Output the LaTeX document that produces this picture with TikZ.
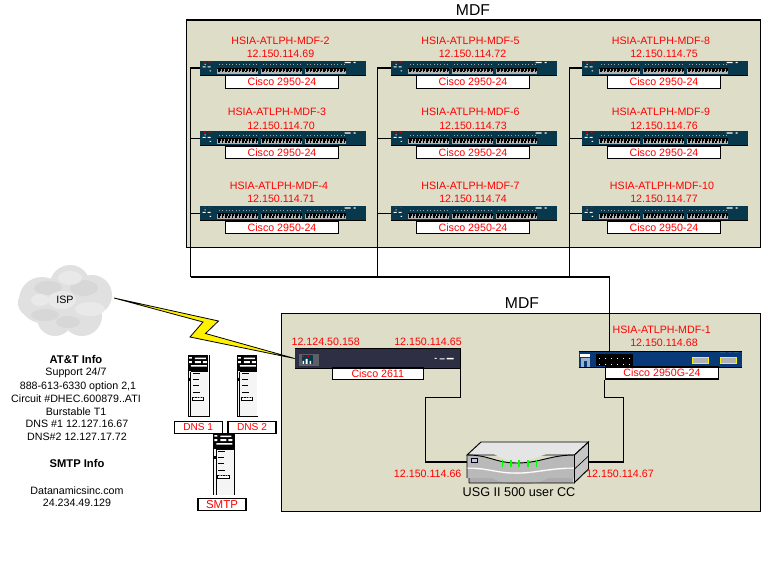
\documentclass[tikz,border=0pt]{standalone}
\usepackage{fontspec}
\setmainfont{Liberation Sans}
\definecolor{bgc}{RGB}{222,222,200}
\definecolor{teal}{RGB}{8,56,76}
\definecolor{dk}{RGB}{46,46,68}
\definecolor{navy}{RGB}{8,58,122}
\tikzset{
 px/.style={x=0.75pt,y=-0.75pt},
 ln/.style={draw=black,line width=0.8pt},
 rt/.style={text=red,inner sep=0pt,font=\fontsize{8}{9}\selectfont},
 bt/.style={text=black,inner sep=0pt,font=\fontsize{8}{9}\selectfont},
 bth/.style={text=black,inner sep=0pt,font=\fontsize{8.4}{9}\selectfont\bfseries},
 ttl/.style={text=black,inner sep=0pt,font=\fontsize{11.8}{13}\selectfont},
 zone/.style={fill=bgc,draw=black,line width=0.8pt,inner sep=0pt},
 swbox/.style={fill=teal,inner sep=0pt,minimum width=124.5pt,minimum height=10.9pt},
 lab/.style={fill=white,draw=black,line width=0.8pt,text=red,inner sep=0pt,minimum width=85pt,minimum height=9.1pt,font=\fontsize{8}{9}\selectfont},
 slab/.style={lab,minimum width=36pt,minimum height=9pt},
 blank/.style={inner sep=0pt,minimum width=15.5pt,minimum height=46pt},
}
% details of a 24-port switch; #1 = name of the switch node
\newcommand{\swdetail}[1]{%
 \begin{scope}[shift={(#1.north west)}]
  \fill[red!80!black] (4,1) rectangle (6,2.2) (9,1) rectangle (11,2.2);
  \fill[white] (3,6) rectangle (6,7) (8,6) rectangle (11,7) (5,3.5) rectangle (6,4.5) (10,10) rectangle (11.5,11);
  \fill[white] (145,1.5) rectangle (151,2.6) (154,1.5) rectangle (156,2.6);
  \foreach \gx in {17,61,105}{
   \fill[black] (\gx,7.5) rectangle ++(41,3);
   \fill[gray!60] (\gx,10.5) rectangle ++(41,2.7);
   \foreach \i in {0,...,11}{
    \fill[gray!70] ({\gx+0.6+\i*3.4},8.5) rectangle ++(0.7,2);
    \fill[black] ({\gx+1.5+\i*3.4},10.5) rectangle ++(1.6,1.4);
    \fill[gray!70!white] ({\gx+2+\i*3.4},4) rectangle ++(0.9,0.9);
   }
  }
  \draw[black,line width=0.6pt] (0,14.5) -- (166,14.5);
 \end{scope}}
% server tower drawn at its top-left corner
\newcommand{\towerdetail}[1]{%
 \begin{scope}[shift={(#1)}]
  \fill[gray!8] (0,15) rectangle (20.5,61.5);
  \fill[black] (0,0) rectangle (20.5,15.7);
  \fill[white] (7,2.5) rectangle (18,4) (7,6) rectangle (13,8) (15,6) rectangle (19,8) (1,2) rectangle (4,3.5) (1,6) rectangle (4,8) (3,10) rectangle (19,11.5);
  \draw[black,line width=0.8pt] (0.4,0) -- (0.4,61.5) (2.8,16.5) -- (2.8,61.5) (2.8,16.5) -- (20.5,16.5);
  \fill[black] (1,23) rectangle (3,26);
  \draw[black,line width=0.7pt] (5,18.3) -- (12,18.3) (5,24.3) -- (11,24.3) (5,30.5) -- (11,30.5) (5,37.7) -- (12,37.7);
  \draw[black,fill=white,line width=0.6pt] (4.4,42.5) rectangle (15.7,45.7);
  \draw[red!60,line width=0.4pt,dash pattern=on 1pt off 1pt] (6,42.5) -- (15,42.5);
 \end{scope}}
\begin{document}
\begin{tikzpicture}[px]
\useasboundingbox[fill=white] (0,0) rectangle (768,582);
% zones
\node[zone,minimum width=430.5pt,minimum height=170.3pt] (mdfa) at (473.5,133.5) {};
\node[zone,minimum width=359.3pt,minimum height=148.5pt] (mdfb) at (521,412.3) {};
\node[ttl] (ta) at (473,10) {MDF};
\node[ttl] (tb) at (522,303) {MDF};
% bus corner points
\coordinate (ja) at (190.5,277);
\coordinate (jb) at (377.5,277);
\coordinate (jc) at (569.5,277);
\coordinate (jd) at (609.5,277);
\coordinate (ca) at (425.5,397.5);
\coordinate (cb) at (623.5,397.5);
% MDF switches
\foreach \n/\cx/\cy/\nx/\ny/\ix/\iy/\ip in {
 2/283/68/280.5/41/280.5/54/69,
 3/283/138.5/277/112/281/125.5/70,
 4/283/213.5/279/186/281/199/71,
 5/474/68/470.5/41/472.5/54/72,
 6/474/138.5/470.5/112/473/125.5/73,
 7/474/213.5/470.5/186/473/199/74,
 8/665/68/661/41/664/54/75,
 9/665/138.5/661/112/664/125.5/76,
 10/665/213.5/662/186/664/199/77}{
 \node[swbox] (s\n) at (\cx,\cy) {};
 \node[lab] (l\n) at (\cx-1,\cy+14) {Cisco 2950-24};
 \node[rt] (n\n) at (\nx,\ny) {HSIA-ATLPH-MDF-\n};
 \node[rt] (i\n) at (\ix,\iy) {12.150.114.\ip};
 \swdetail{s\n}
}
% lower devices
\node[fill=dk,inner sep=0pt,minimum width=123.8pt,minimum height=14.2pt] (r) at (377.5,358.5) {};
\node[lab,minimum width=67.9pt,minimum height=8.6pt] (rl) at (377.8,373.7) {Cisco 2611};
\node[fill=navy,inner sep=0pt,minimum width=122.3pt,minimum height=12pt] (s1) at (660.5,359.5) {};
\node[lab,minimum width=84.8pt,minimum height=9pt] (l1) at (662,373) {Cisco 2950G-24};
\node[inner sep=0pt,minimum width=90.8pt,minimum height=30.8pt] (usg) at (527.5,462) {};
% connectors
\draw[ln] (s2.west) -| (ja);
\draw[ln] (s3.west) -- (s3.west -| ja);
\draw[ln] (s4.west) -- (s4.west -| ja);
\draw[ln] (s5.west) -| (jb);
\draw[ln] (s6.west) -- (s6.west -| jb);
\draw[ln] (s7.west) -- (s7.west -| jb);
\draw[ln] (s8.west) -| (jc);
\draw[ln] (s9.west) -- (s9.west -| jc);
\draw[ln] (s10.west) -- (s10.west -| jc);
\draw[ln] (ja) -- (jd) -- (jd |- s1.north);
\draw[ln] (r.south east) |- (ca) -- (ca |- usg.west) -- (usg.west);
\draw[ln] (l1.south west) |- (cb) -- (cb |- usg.east) -- (usg.east);
% 2611 details
\begin{scope}[shift={(r.north west)}]
 \fill[gray!60!dk] (4,5) rectangle (24.5,17);
 \fill[teal] (7,6.5) rectangle (18,15.5);
 \fill[white] (8,12) rectangle (9.5,15) (11,10) rectangle (13,15) (15,12) rectangle (16.5,15);
 \fill[red] (8,7) rectangle (9.5,8) (13,7) rectangle (14.5,8);
 \fill[white] (140,9) rectangle (142,10) (145,9.5) rectangle (150,10.5) (152,9) rectangle (159,10.5);
\end{scope}
\draw[black,line width=0.8pt] (r.north west) -- (r.north east) -- (r.south east) -- (r.south west);
% 2950G details
\begin{scope}[shift={(s1.north west)}]
 \fill[white] (1,3) rectangle (11,6);
 \fill[navy!40!white] (2,7) rectangle (11,16);
 \fill[navy] (5,10) rectangle (8,16);
 \fill[black] (17,3) rectangle (54,14.5);
 \foreach \i in {0,...,5}{\fill[white] ({20+\i*6},6.5) rectangle ++(1.6,1); \fill[white] ({20+\i*6},12.5) rectangle ++(1.6,1);}
 \draw[yellow,line width=0.8pt,fill=gray!60] (113.5,6) rectangle (130,12.5) (142,6) rectangle (158,12.5);
 \fill[white] (141,0) rectangle (147,1) (150,0) rectangle (153,1) (155,0) rectangle (160,1);
 \draw[black,line width=0.8pt] (0,0) -- (163,0) (0,16) -- (163,16);
\end{scope}
% USG firewall
\begin{scope}
 \draw[black,line width=0.7pt,fill=gray!20] (467,455) -- (481,442) -- (588.5,442) -- (574.5,455) -- cycle;
 \fill[gray!65] (469,478) rectangle (573,483);
 \draw[black,line width=0.7pt,fill=gray!45] (574.5,455) -- (588.5,442) -- (588.5,469) -- (574.5,482.5) -- cycle;
 \draw[black,line width=0.5pt] (574.5,469) -- (588.5,456);
 \shade[left color=gray!55,middle color=gray!12,right color=gray!55] (467,455) .. controls (490,455) and (495,463) .. (517,463) .. controls (540,463) and (550,455) .. (574.5,455) -- (574.5,468) .. controls (550,468) and (535,473) .. (517,473) .. controls (495,473) and (490,468) .. (467,468) -- cycle;
 \shade[left color=gray!55,middle color=gray!6,right color=gray!55] (467,469) .. controls (490,469) and (495,474) .. (517,474) .. controls (535,474) and (550,469) .. (574.5,469) -- (574.5,478) -- (548,478) .. controls (540,483) and (530,484.5) .. (517,484) .. controls (505,484.5) and (500,482) .. (492,478) -- (467,478) -- cycle;
 \draw[white,line width=0.8pt] (467,468) .. controls (490,468) and (495,473) .. (517,473) .. controls (535,473) and (550,468) .. (574.5,468);
 \draw[black,line width=0.7pt] (467,455) -- (467,478) (574.5,455) -- (574.5,482.5) (469,483) -- (574.5,483) (469,478) -- (469,483) (467,455) .. controls (490,455) and (495,463) .. (517,463) .. controls (540,463) and (550,455) .. (574.5,455);
 \fill[gray!20] (490,452) .. controls (498,456) and (505,461) .. (517,461.8) .. controls (530,461) and (540,456) .. (552,452) -- cycle;
 \draw[black,fill=blue!25,line width=0.6pt] (471.5,458) rectangle (477.5,462);
 \foreach \lx in {502.7,511,519,528,536.7}{\draw[green,line width=0.8pt] (\lx,460) -- (\lx,467);}
\end{scope}
\node[bt,font=\fontsize{9.5}{10}\selectfont] (usgt) at (519,491.7) {USG II 500 user CC};
% lower red labels
\node[rt] (ra) at (325.7,342) {12.124.50.158};
\node[rt] (rb) at (428,342) {12.150.114.65};
\node[rt] (n1) at (661.7,330) {HSIA-ATLPH-MDF-1};
\node[rt] (i1) at (664,343) {12.150.114.68};
\node[rt] (ua) at (427.7,474.3) {12.150.114.66};
\node[rt] (ub) at (620,474.3) {12.150.114.67};
% ISP cloud
\begin{scope}
 \fill[gray!24] (42,300) circle (23) (70,285) circle (20) (92,295) circle (20) (55,318) circle (18) (82,316) circle (20) (32,303) circle (14) (68,300) circle (28);
 \fill[gray!34,opacity=.7] (48,288) ellipse (14 and 7) (84,288) ellipse (14 and 8) (45,315) ellipse (14 and 6) (68,322) ellipse (12 and 6);
 \fill[gray!15,opacity=.8] (70,278) ellipse (12 and 7) (90,309) ellipse (15 and 7) (40,300) ellipse (9 and 6) (62,300) ellipse (14 and 9);
\end{scope}
\node[bt] (isp) at (65,300) {ISP};
% WAN link
\coordinate (wa) at (114,298);
\draw[black,line width=0.6pt,fill=yellow] (wa) -- (218.5,321) -- (205.5,333.5) -- (r.west) -- (190,337) -- (203,322) -- cycle;
% servers
\node[blank] (dns1) at (198.5,386) {};
\node[blank] (dns2) at (247.5,386) {};
\node[blank] (smtp) at (224,464) {};
\towerdetail{dns1.north west}
\towerdetail{dns2.north west}
\draw[black,line width=0.8pt] (dns1.north east) -- (dns1.south east) -- (dns1.south west);
\draw[black,line width=0.8pt] (dns2.south west) -- (dns2.south east);
\node[slab,font=\fontsize{7.6}{9}\selectfont] (d1) at (198.2,427.2) {DNS 1};
\node[slab,font=\fontsize{7.6}{9}\selectfont] (d2) at (252,427.2) {DNS 2};
\towerdetail{smtp.north west}
\draw[black,line width=0.8pt] (smtp.north east) -- (smtp.south east);
\node[slab,font=\fontsize{8.6}{9}\selectfont] (d3) at (222,504.5) {SMTP};
% info text
\node[bth] (t1) at (76,359.3) {AT\&T Info};
\node[bt] (t2) at (76,373) {Support 24/7};
\node[bt] (t3) at (78,386.5) {888-613-6330 option 2,1};
\node[bt] (t4) at (76,399) {Circuit \#DHEC.600879..ATI};
\node[bt] (t5) at (76,411.5) {Burstable T1};
\node[bt] (t6) at (77,424.3) {DNS \#1 12.127.16.67};
\node[bt] (t7) at (77,436.7) {DNS\#2 12.127.17.72};
\node[bth] (t8) at (77,463.5) {SMTP Info};
\node[bt] (t9) at (77,490.5) {Datanamicsinc.com};
\node[bt] (t10) at (77,502.5) {24.234.49.129};
\end{tikzpicture}
\end{document}
